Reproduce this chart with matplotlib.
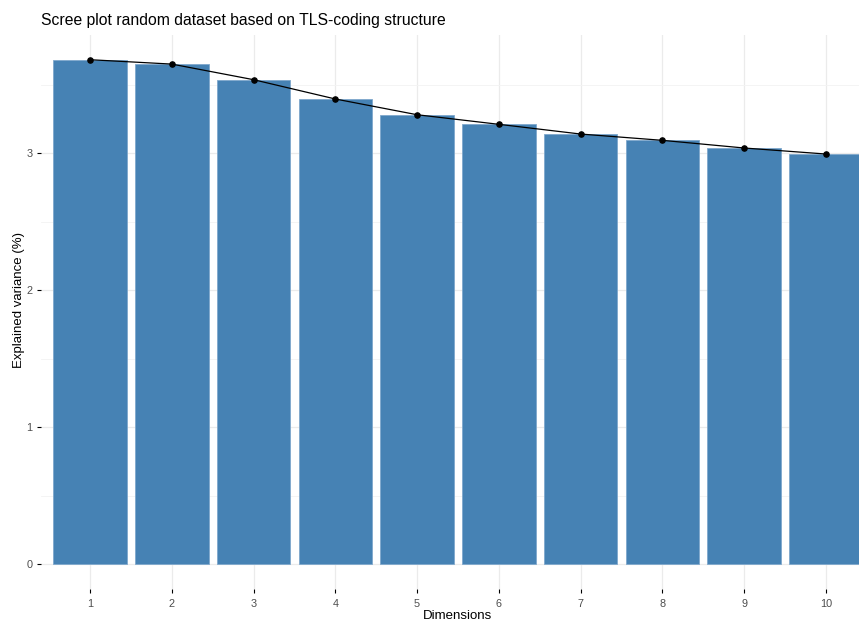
import matplotlib
matplotlib.use("Agg")
import matplotlib.pyplot as plt
from matplotlib.ticker import MultipleLocator

dims = list(range(1, 11))
variance = [3.684, 3.652, 3.538, 3.397, 3.282, 3.212, 3.141, 3.095, 3.039, 2.995]
y_ticks = [0, 1, 2, 3]

plt.rcParams['font.family'] = ['Liberation Sans', 'DejaVu Sans']

fig = plt.figure(figsize=(8.59, 6.22), dpi=100)
W, H = 859, 622
left, right, top, bottom = 41, 875, 34.5, 589.2
ax = fig.add_axes([left / W, (H - bottom) / H, (right - left) / W, (bottom - top) / H])

ax.bar(dims, variance, width=0.9, color='#4682B4', edgecolor='#7fa8cc', linewidth=0.6, zorder=2)
ax.plot(dims, variance, color='black', linewidth=0.9, zorder=3)
ax.scatter(dims, variance, color='black', s=14, zorder=4)

ax.set_xlim(0.4, 10.6)
ymax = max(variance)
ax.set_ylim(-0.05 * ymax, ymax * 1.05)
ax.set_xticks(dims)
ax.set_xticklabels([str(d) for d in dims])
ax.set_yticks(y_ticks)
ax.yaxis.set_minor_locator(MultipleLocator(0.5))

for s in ax.spines.values():
    s.set_visible(False)
ax.grid(True, which='major', color='#EBEBEB', linewidth=0.9, zorder=0)
ax.grid(True, which='minor', axis='y', color='#F3F3F3', linewidth=0.6, zorder=0)
ax.set_axisbelow(True)
ax.tick_params(axis='x', which='major', length=3, width=0.8, color='black',
               labelcolor='#4D4D4D', labelsize=7.8, pad=4)
ax.tick_params(axis='y', which='major', length=3, width=0.8, color='black',
               labelcolor='#4D4D4D', labelsize=7.8, pad=3)
ax.tick_params(axis='both', which='minor', length=0)

fig.text(457 / W, 1 - 616 / H, 'Dimensions', fontsize=9.5, color='black',
         ha='center', va='center')
fig.text(19 / W, 1 - 300 / H, 'Explained variance (%)', fontsize=9.5, color='black',
         ha='center', va='center', rotation=90)
fig.text(41 / W, 1 - 21 / H, 'Scree plot random dataset based on TLS-coding structure',
         fontsize=11.3, color='black', ha='left', va='center')

fig.savefig('out.png', dpi=100)
